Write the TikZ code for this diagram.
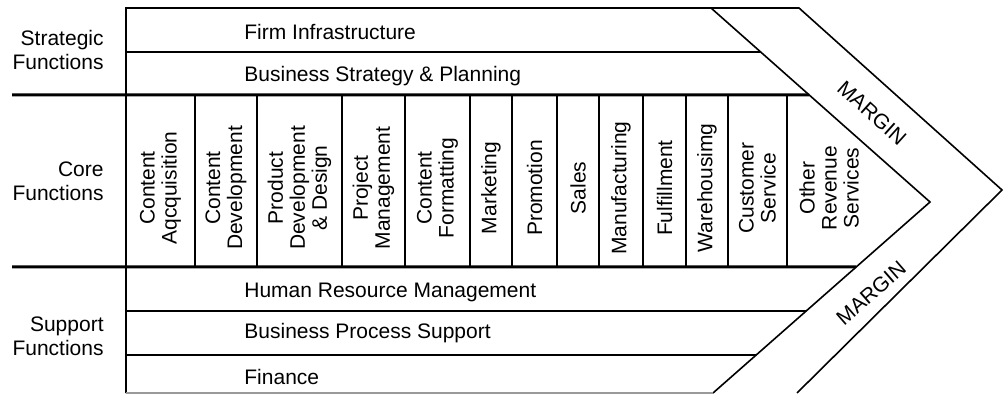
\documentclass[tikz,border=0pt]{standalone}
\usepackage{fontspec}
\setmainfont{Liberation Sans}
\usetikzlibrary{calc}
\tikzset{
  thinline/.style = {line width=0.8pt},
  thickline/.style = {line width=1.5pt},
  bandtext/.style = {anchor=west, inner sep=0pt, font=\fontsize{10.5}{12}\selectfont},
  coltext/.style = {rotate=90, align=center, inner sep=0pt, font=\fontsize{10.5}{11}\selectfont},
  grouptext/.style = {anchor=east, align=right, inner sep=0pt, font=\fontsize{10.5}{12}\selectfont},
  margintext/.style = {inner sep=0pt, font=\fontsize{10.5}{12}\selectfont},
}
\begin{document}
\begin{tikzpicture}[x=0.5pt,y=-0.5pt]
\useasboundingbox (0,0) rectangle (1004,394);
% chevron corners
\coordinate (itop) at (711,8);
\coordinate (itip) at (930,202);
\coordinate (ibot) at (713,393);
\coordinate (otop) at (799,8);
\coordinate (otip) at (1002,190);
\coordinate (obot) at (797,393);
% outline
\draw[thinline] (126,393) -- (126,8) -- (otop) -- (otip) -- (obot);
\draw[thinline] (itop) -- (itip) -- (ibot);
\draw[thinline, black!40] (126,393) -- (ibot);
% bands
\draw[thinline] (126,52) -- ($(itop)!{44/194}!(itip)$);
\draw[thickline] (12,95) -- ($(itop)!{87/194}!(itip)$);
\draw[thickline] (12,267) -- ($(itip)!{65/191}!(ibot)$);
\draw[thinline] (126,311) -- ($(itip)!{109/191}!(ibot)$);
\draw[thinline] (126,355) -- ($(itip)!{153/191}!(ibot)$);
% columns
\foreach \xb in {195,257,342,405,470,512,557,599,643,686,728,787}
  \draw[thinline] (\xb,95) -- (\xb,267);
\foreach \cx/\txt [count=\i] in {160.5/{Content\\Aqcquisition}, 226/{Content\\Development},
    299.5/{Product\\Development\\\& Design}, 373.5/{Project\\Management},
    437.5/{Content\\Formatting}, 491/Marketing, 534.5/Promotion, 578/Sales,
    621/Manufacturing, 664.5/Fulfillment, 707/Warehousimg,
    757.5/{Customer\\Service}, 829/{Other\\Revenue\\Services}}
  \node[coltext] (col\i) at (\cx,188) {\txt};
% group labels
\node[grouptext] (strategic) at (104,50) {Strategic\\Functions};
\node[grouptext] (core) at (104,181) {Core\\Functions};
\node[grouptext] (support) at (104,336) {Support\\Functions};
% band labels
\node[bandtext] (firm) at (244,32) {Firm Infrastructure};
\node[bandtext] (strategy) at (244,76) {Business Strategy \& Planning};
\node[bandtext] (hrm) at (244,292) {Human Resource Management};
\node[bandtext] (bps) at (244,333) {Business Process Support};
\node[bandtext] (finance) at (244,377) {Finance};
% margin
\node[margintext, rotate=-42] (margintop) at (872,113) {MARGIN};
\node[margintext, rotate=41] (marginbot) at (871,293) {MARGIN};
\end{tikzpicture}
\end{document}
